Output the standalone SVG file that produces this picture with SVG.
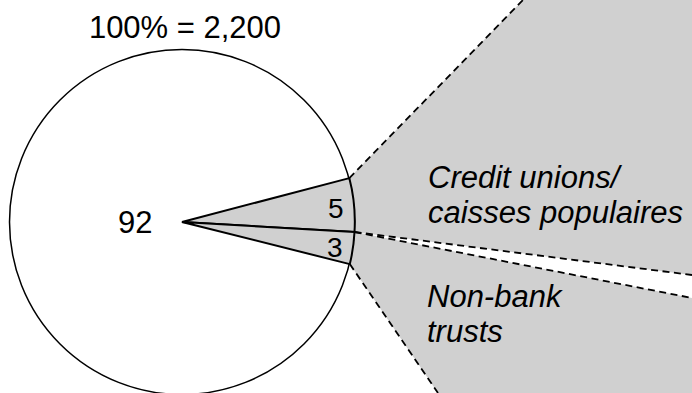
<svg xmlns="http://www.w3.org/2000/svg" width="692" height="393" viewBox="0 0 692 393">
<defs>
<style>
.t{font-family:"Liberation Sans",Arial,sans-serif;font-size:31px;fill:#000}
.i{font-style:italic}
.g{fill:#d0d0d0;stroke:none}
.d{fill:none;stroke:#000;stroke-width:1.8;stroke-dasharray:7,4.5}
.w{fill:#d0d0d0;stroke:#000;stroke-width:2;stroke-linejoin:miter}
</style>
</defs>
<rect x="0" y="0" width="692" height="393" fill="#fff"/>
<g id="expansion">
<polygon class="g" points="349.3,178.1 523,0 692,0 692,275 354.7,232"/>
<polygon class="g" points="354.7,232 692,298 692,393 438,393 349.8,264.1"/>
</g>
<g id="pie">
<circle cx="182" cy="222" r="172.5" fill="#fff" stroke="#000" stroke-width="1.5"/>
<path id="wedge5" class="w" d="M182,222 L349.3,178.1 A172.5,172.5 0 0 1 354.5,232 Z"/>
<path id="wedge3" class="w" d="M182,222 L354.5,232 A172.5,172.5 0 0 1 349.8,264.1 Z"/>
<text class="t" x="118" y="233">92</text>
<text class="t" x="328" y="218" style="font-size:28px">5</text>
<text class="t" x="327" y="257" style="font-size:28px">3</text>
</g>
<g id="connectors">
<line class="d" x1="349.3" y1="178.1" x2="523" y2="0"/>
<line class="d" x1="354.5" y1="232" x2="692" y2="275"/>
<line class="d" x1="354.5" y1="232" x2="692" y2="298"/>
<line class="d" x1="349.8" y1="264.1" x2="438" y2="393"/>
</g>
<g id="title">
<text class="t" x="185" y="38" text-anchor="middle">100% = 2,200</text>
</g>
<g id="label-credit">
<text class="t i" x="428" y="188">Credit unions/</text>
<text class="t i" x="428" y="223">caisses populaires</text>
</g>
<g id="label-nonbank">
<text class="t i" x="427" y="307">Non-bank</text>
<text class="t i" x="427" y="342">trusts</text>
</g>
</svg>
